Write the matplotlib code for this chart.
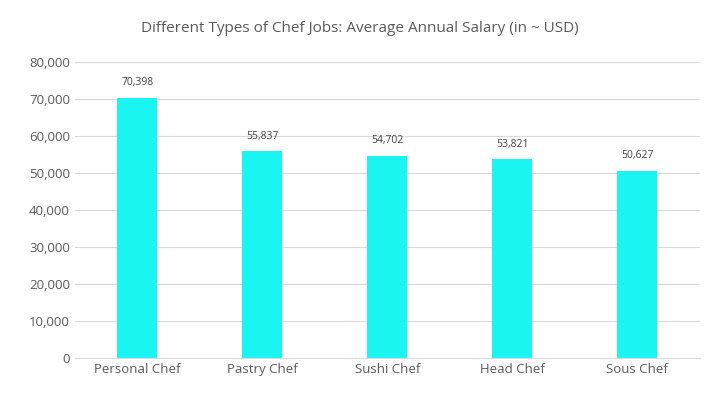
import matplotlib.pyplot as plt
import numpy as np

plt.rcParams['font.family'] = ['Open Sans', 'DejaVu Sans']

jobs = ["Personal Chef", "Pastry Chef", "Sushi Chef", "Head Chef", "Sous Chef"]
salary = [70398, 55837, 54702, 53821, 50627]

fig = plt.figure(figsize=(7.2, 4.03), dpi=100)
ax = fig.add_axes([0.104, 0.112, 0.868, 0.734])
x = np.arange(len(jobs))
ax.bar(x, salary, width=0.32, color='#1AF5F2', zorder=2)
for i, v in enumerate(salary):
    ax.text(i, v + 2500, f"{v:,}", ha='center', va='bottom', fontsize=7.5, color='#404040')

ax.set_ylim(0, 80000)
ax.set_xlim(-0.5, len(jobs) - 0.5)
ax.set_yticks(range(0, 80001, 10000))
ax.set_yticklabels([f"{t:,}" for t in range(0, 80001, 10000)])
ax.set_xticks(x)
ax.set_xticklabels(jobs)
ax.tick_params(length=0, labelsize=9.5, colors='#595959')
ax.grid(axis='y', color='#D9D9D9', linewidth=0.8, zorder=0)
for s in ['top', 'right', 'left']:
    ax.spines[s].set_visible(False)
ax.spines['bottom'].set_color('#D9D9D9')
fig.text(0.5, 0.93, "Different Types of Chef Jobs: Average Annual Salary (in ~ USD)",
         ha='center', va='center', fontsize=11, color='#595959')
fig.savefig('out.png', dpi=100)
